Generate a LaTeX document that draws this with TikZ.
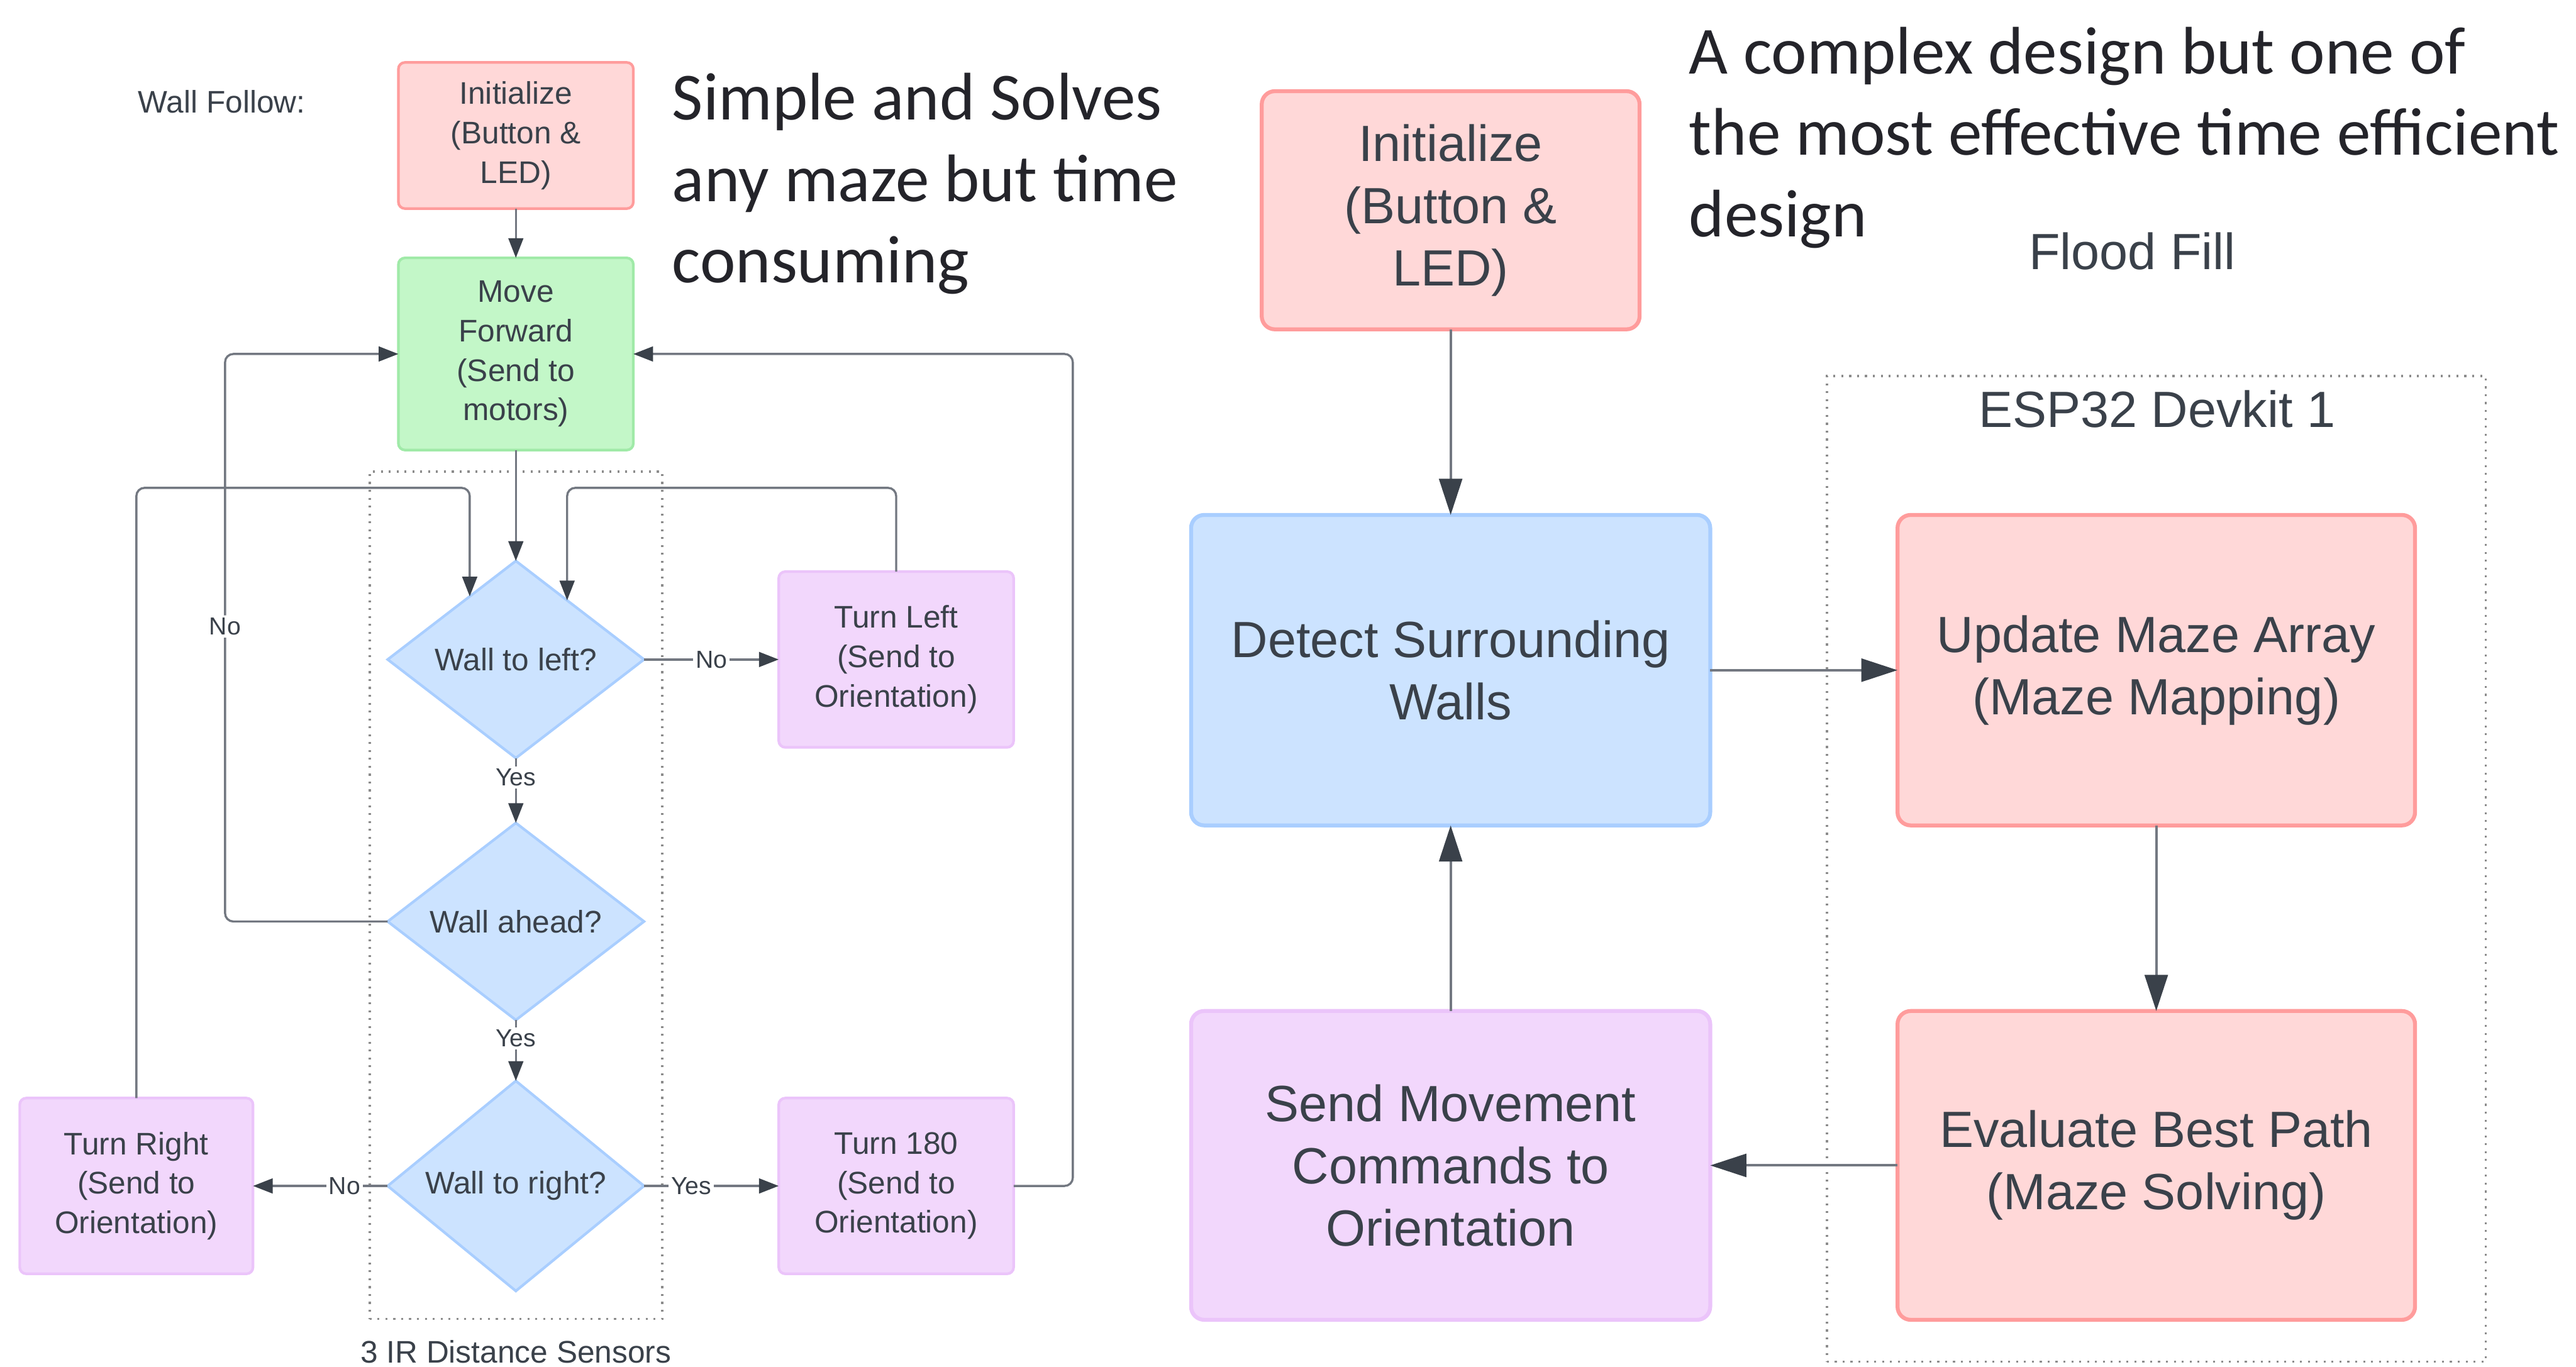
\documentclass[tikz,border=0pt]{standalone}
\usepackage{fontspec}
\setmainfont{Liberation Sans}
\newfontfamily\notefont{Carlito}
\usetikzlibrary{arrows.meta, shapes.geometric, calc}

\definecolor{txtc}{HTML}{3A414A}
\definecolor{linec}{HTML}{737881}
\definecolor{tipc}{HTML}{3A414A}
\definecolor{redfill}{HTML}{FFD8D8}
\definecolor{reddraw}{HTML}{FF9C9C}
\definecolor{greenfill}{HTML}{C3F7C8}
\definecolor{greendraw}{HTML}{A0EAA8}
\definecolor{bluefill}{HTML}{CCE3FF}
\definecolor{bluedraw}{HTML}{A9CEFF}
\definecolor{purplefill}{HTML}{F2D7FC}
\definecolor{purpledraw}{HTML}{EBC4FA}
\definecolor{dotc}{HTML}{8C8C8C}
\definecolor{notec}{HTML}{24242A}

\begin{document}
\begin{tikzpicture}[x=1pt, y=-1pt,
		smallbox/.style={draw, line width=1.6pt, rounded corners=4pt, minimum width=143pt, minimum height=107pt, inner sep=0pt, outer sep=0pt, align=center, text=txtc, font=\fontsize{19}{24}\selectfont},
		bigbox/.style={draw, line width=2.4pt, rounded corners=8pt, minimum width=316pt, minimum height=188pt, inner sep=0pt, outer sep=0pt, align=center, text=txtc, font=\fontsize{31}{38}\selectfont},
		decision/.style={diamond, draw=bluedraw, fill=bluefill, line width=1.6pt, minimum width=156pt, minimum height=120pt, inner sep=0pt, outer sep=0pt, text=txtc, font=\fontsize{19}{24}\selectfont},
		groupbox/.style={draw=dotc, line width=1.4pt, dash pattern=on 1.2pt off 3.6pt, inner sep=0pt, outer sep=0pt},
		smallflow/.style={draw=linec, line width=1.3pt, -{Triangle[length=12pt, width=9pt, color=tipc]}},
		bigflow/.style={draw=linec, line width=1.5pt, -{Triangle[length=22pt, width=14pt, color=tipc]}},
		linetext/.style={fill=white, inner sep=1.5pt, text=txtc, font=\fontsize{15}{18}\selectfont},
		plaintext/.style={inner sep=0pt, text=txtc},
		note/.style={inner sep=0pt, align=left, text=notec, font=\notefont\fontsize{41}{49.5}\selectfont}
	]
	\useasboundingbox (0, 0) rectangle (1568, 832);

	% containers
	\node[groupbox, minimum width=178pt, minimum height=516pt] (irgroup) at (314, 545) {};
	\node[groupbox, minimum width=401pt, minimum height=600pt] (espgroup) at (1312.5, 529) {};

	% wall follow
	\node[plaintext, anchor=west, font=\fontsize{19}{24}\selectfont] (wftitle) at (84, 62) {Wall Follow:};
	\node[smallbox, fill=redfill, draw=reddraw, minimum height=89pt] (init1) at (314, 82.5) {Initialize\\(Button \&\\LED)};
	\node[smallbox, fill=greenfill, draw=greendraw, minimum height=117pt] (move) at (314, 215.5) {Move\\Forward\\(Send to\\motors)};
	\node[decision] (wleft) at (314, 401.5) {Wall to left?};
	\node[decision] (wahead) at (314, 561) {Wall ahead?};
	\node[decision] (wright) at (314, 722) {Wall to right?};
	\node[smallbox, fill=purplefill, draw=purpledraw] (tleft) at (545.5, 401.5) {Turn Left\\(Send to\\Orientation)};
	\node[smallbox, fill=purplefill, draw=purpledraw, minimum width=142pt] (tright) at (83, 722) {Turn Right\\(Send to\\Orientation)};
	\node[smallbox, fill=purplefill, draw=purpledraw] (t180) at (545.5, 722) {Turn 180\\(Send to\\Orientation)};
	\node[plaintext, font=\fontsize{19}{24}\selectfont] (irlabel) at (314, 823) {3 IR Distance Sensors};

	\coordinate (looptop) at (0, 297);
	\coordinate (railL) at (137, 0);
	\coordinate (railR) at (653, 0);
	\coordinate (lin) at ($(wleft.north)!0.36!(wleft.west)$);
	\coordinate (rin) at ($(wleft.north)!0.4!(wleft.east)$);

	\draw[smallflow] (init1) -- (move);
	\draw[smallflow] (move) -- (wleft);
	\draw[smallflow] (wleft) -- node[linetext, pos=0.3] {Yes} (wahead);
	\draw[smallflow] (wahead) -- node[linetext, pos=0.3] {Yes} (wright);
	\draw[smallflow] (wleft.east) -- node[linetext] {No} (tleft.west);
	\draw[smallflow] (wright.west) -- node[linetext, pos=0.32] {No} (tright.east);
	\draw[smallflow] (wright.east) -- node[linetext, pos=0.35] {Yes} (t180.west);
	\draw[smallflow, rounded corners=5pt] (wahead.west) -| node[linetext, pos=0.76] {No} (railL |- move.west) -- (move.west);
	\draw[smallflow, rounded corners=5pt] (t180.east) -| (railR |- move.east) -- (move.east);
	\draw[smallflow, rounded corners=5pt] (tright.north) |- (lin |- looptop) -- (lin);
	\draw[smallflow, rounded corners=5pt] (tleft.north) |- (rin |- looptop) -- (rin);

	% flood fill
	\node[bigbox, fill=redfill, draw=reddraw, minimum width=230pt, minimum height=145pt] (init2) at (883, 128) {Initialize\\(Button \&\\LED)};
	\node[bigbox, fill=bluefill, draw=bluedraw, minimum height=189pt] (detect) at (883, 408) {Detect Surrounding\\Walls};
	\node[bigbox, fill=purplefill, draw=purpledraw] (send) at (883, 709.5) {Send Movement\\Commands to\\Orientation};
	\node[bigbox, fill=redfill, draw=reddraw, minimum width=315pt, minimum height=189pt] (update) at (1312.5, 408) {Update Maze Array\\(Maze Mapping)};
	\node[bigbox, fill=redfill, draw=reddraw, minimum width=315pt] (evaluate) at (1312.5, 709.5) {Evaluate Best Path\\(Maze Solving)};
	\node[plaintext, font=\fontsize{31}{38}\selectfont] (fftitle) at (1298, 153) {Flood Fill};
	\node[plaintext, font=\fontsize{31}{38}\selectfont] (esplabel) at (1313, 249) {ESP32 Devkit 1};

	\draw[bigflow] (init2) -- (detect);
	\draw[bigflow] (detect) -- (update);
	\draw[bigflow] (update) -- (evaluate);
	\draw[bigflow] (evaluate) -- (send);
	\draw[bigflow] (send) -- (detect);

	% notes
	\node[note, anchor=base west] (note1) at (409, 172) {Simple and Solves\\any maze but time\\consuming};
	\node[note, anchor=base west] (note2) at (1028, 144) {A complex design but one of\\the most effective time efficient\\design};
\end{tikzpicture}
\end{document}
